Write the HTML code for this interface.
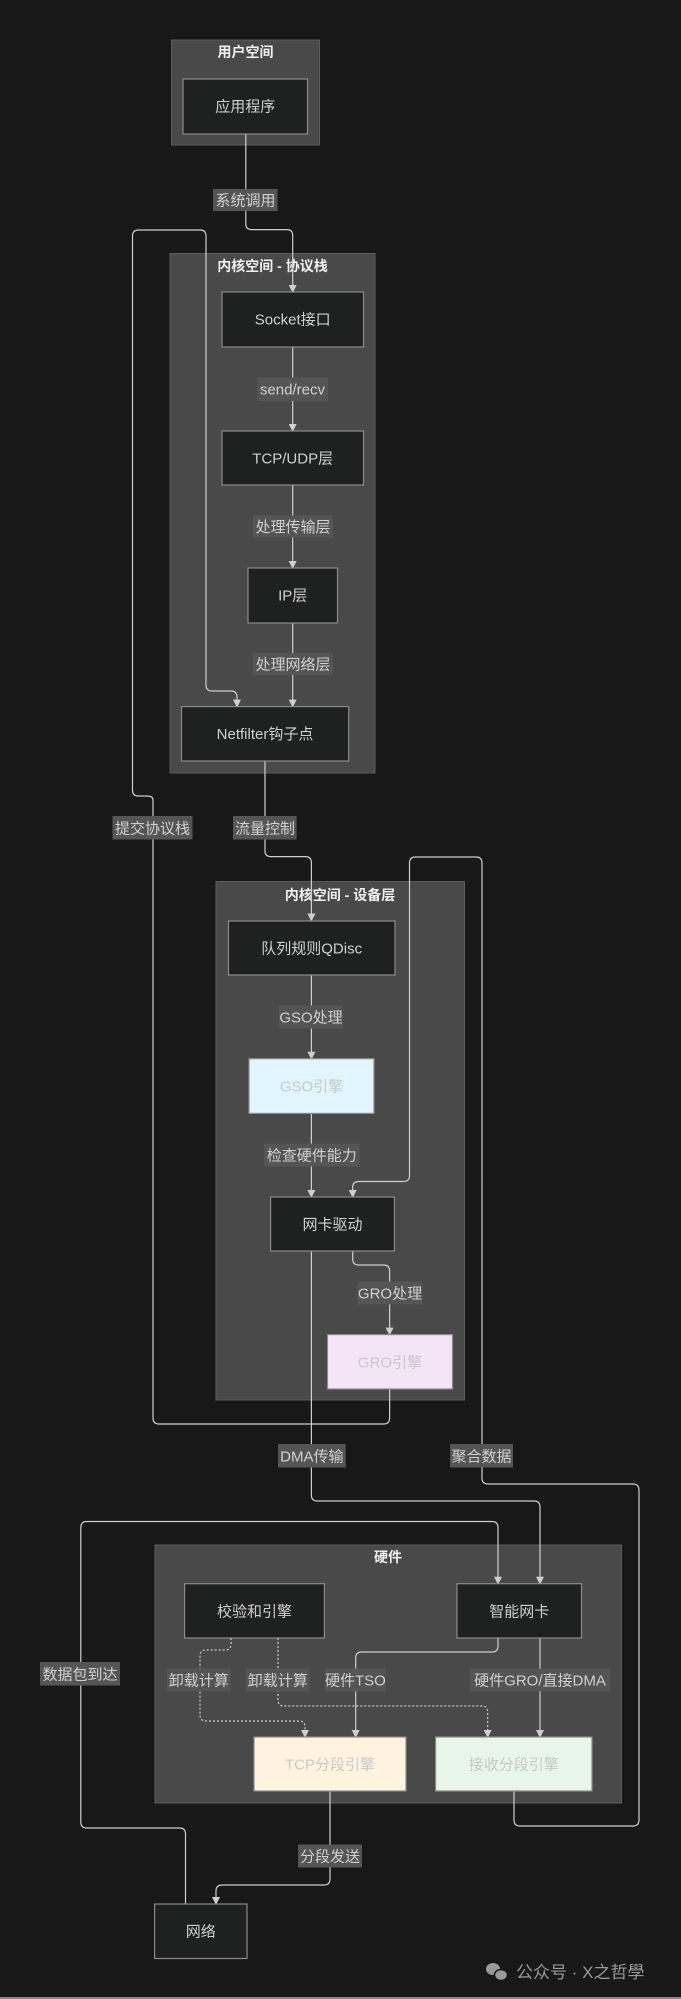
<!DOCTYPE html>
<html><head><meta charset="utf-8"><style>
html,body{margin:0;padding:0;background:#181818;}
svg{display:block;}
text{font-family:"Liberation Sans","Noto Sans CJK SC",sans-serif;}
</style></head><body>
<svg width="681" height="1999" viewBox="0 0 681 1999" xmlns="http://www.w3.org/2000/svg">
<defs>
<marker id="a" markerWidth="8" markerHeight="8" refX="7" refY="4" orient="auto" markerUnits="userSpaceOnUse">
<path d="M0,0 L8,4 L0,8 z" fill="#cfcfcf"/></marker>
</defs>
<rect width="681" height="1999" fill="#181818"/>
<rect x="0" y="1997" width="681" height="2" fill="#8a8a8a"/>

<g fill="#484948" stroke="#5c5c5c" stroke-width="1">
<rect x="171.5" y="40" width="148" height="105"/>
<rect x="170" y="253.5" width="205" height="519.5"/>
<rect x="216" y="881.5" width="248.5" height="518.5"/>
<rect x="155" y="1545" width="466.5" height="258"/>
</g>
<g fill="#f0f0f0" font-size="14" font-weight="bold" text-anchor="middle">
<text x="245.5" y="57">用户空间</text>
<text x="272.5" y="271">内核空间 - 协议栈</text>
<text x="340" y="900">内核空间 - 设备层</text>
<text x="388" y="1562">硬件</text>
</g>

<g fill="none" stroke="#cfcfcf" stroke-width="1.2">
<path d="M245.8,134 V224 q0,5.6 6,5.6 H287 q5.7,0 5.7,6 V292" marker-end="url(#a)"/>
<path d="M292.7,347 V431" marker-end="url(#a)"/>
<path d="M292.7,485 V568" marker-end="url(#a)"/>
<path d="M292.7,623 V706.6" marker-end="url(#a)"/>
<path d="M389.6,1389 V1418 q0,6 -6,6 H159 q-6,0 -6,-6 V800 q0,-4 -6,-4 H138 q-5.5,0 -5.5,-6 V236 q0,-6 6,-6 H200 q6,0 6,6 V685 q0,6 6,6 H231 q6,0 6,6 V706.6" marker-end="url(#a)"/>
<path d="M265,761 V851 q0,5.6 6,5.6 H305.4 q6,0 6,6 V920.5" marker-end="url(#a)"/>
<path d="M311.4,975 V1058.7" marker-end="url(#a)"/>
<path d="M311.4,1113.4 V1197" marker-end="url(#a)"/>
<path d="M514,1791 V1820 q0,6 6,6 H633 q6,0 6,-6 V1490 q0,-6 -6,-6 H488 q-6,0 -6,-6 V863 q0,-6 -6,-6 H415.5 q-6,0 -6,6 V1175.5 q0,6 -6,6 H358.7 q-6,0 -6,6 V1197" marker-end="url(#a)"/>
<path d="M352.7,1251 V1259 q0,6 6,6 H383.6 q6,0 6,6 V1334.6" marker-end="url(#a)"/>
<path d="M311.4,1251 V1495 q0,6 6,6 H534 q6,0 6,6 V1583.7" marker-end="url(#a)"/>
<path d="M185.5,1904 V1834 q0,-6 -6,-6 H86.8 q-6,0 -6,-6 V1527.5 q0,-6 6,-6 H492 q6,0 6,6 V1583.7" marker-end="url(#a)"/>
<path d="M498,1638 V1646 q0,6 -6,6 H361.7 q-6,0 -6,6 V1737" marker-end="url(#a)"/>
<path d="M540,1638 V1737" marker-end="url(#a)"/>
<path d="M330,1791 V1879 q0,6 -6,6 H222 q-6,0 -6,6 V1904" marker-end="url(#a)"/>
<g stroke-dasharray="2,2">
<path d="M231,1638 V1644 q0,6 -6,6 H206 q-6,0 -6,6 V1715 q0,6 6,6 H299 q6,0 6,6 V1737" marker-end="url(#a)"/>
<path d="M278,1638 V1700 q0,6 6,6 H481.7 q6,0 6,6 V1737" marker-end="url(#a)"/>
</g>
</g>

<g fill="#555555">
<rect x="213" y="189" width="64.5" height="22"/>
<rect x="257" y="377.5" width="71" height="23.5"/>
<rect x="253" y="515.5" width="80" height="22"/>
<rect x="253" y="653" width="80" height="22"/>
<rect x="112.5" y="816" width="80" height="23.5"/>
<rect x="233" y="816" width="63.6" height="23.5"/>
<rect x="279" y="1005.5" width="64" height="23"/>
<rect x="264" y="1143.5" width="95.6" height="23"/>
<rect x="357.5" y="1281.5" width="65" height="23"/>
<rect x="278" y="1444" width="67.7" height="23.5"/>
<rect x="450" y="1444" width="63" height="23.5"/>
<rect x="40" y="1662" width="80" height="23.5"/>
<rect x="167" y="1668.5" width="63.6" height="23"/>
<rect x="246" y="1668.5" width="63.7" height="23"/>
<rect x="325" y="1668.5" width="60.7" height="23"/>
<rect x="470" y="1668.5" width="140" height="23"/>
<rect x="298" y="1844.5" width="64" height="23"/>
</g>
<g fill="#d0d0d0" font-size="15" text-anchor="middle">
<text x="245.5" y="205.5">系统调用</text>
<text x="292.5" y="394.5">send/recv</text>
<text x="293" y="532">处理传输层</text>
<text x="293" y="669.5">处理网络层</text>
<text x="152.5" y="833.5">提交协议栈</text>
<text x="265" y="833.5">流量控制</text>
<text x="311" y="1022.5">GSO处理</text>
<text x="311.8" y="1160.5">检查硬件能力</text>
<text x="390" y="1298.5">GRO处理</text>
<text x="311.8" y="1461.5">DMA传输</text>
<text x="481.5" y="1461.5">聚合数据</text>
<text x="80" y="1679.5">数据包到达</text>
<text x="198.8" y="1685.5">卸载计算</text>
<text x="277.8" y="1685.5">卸载计算</text>
<text x="355.4" y="1685.5">硬件TSO</text>
<text x="540" y="1685.5">硬件GRO/直接DMA</text>
<text x="330" y="1861.5">分段发送</text>
</g>

<g stroke="#8a8a8a" stroke-width="1.2" fill="#1f2020">
<rect x="183" y="79" width="124.5" height="55"/>
<rect x="222" y="292" width="141.5" height="55"/>
<rect x="222" y="431" width="141.5" height="54"/>
<rect x="248" y="568" width="89.5" height="55"/>
<rect x="181.5" y="706.6" width="167.2" height="54.4"/>
<rect x="228.5" y="921" width="166.5" height="54"/>
<rect x="249" y="1058.7" width="125" height="54.7" fill="#e1f5fe"/>
<rect x="270.6" y="1197" width="123.8" height="54"/>
<rect x="327.5" y="1334.6" width="125" height="54.4" fill="#f3e5f5"/>
<rect x="184.6" y="1583.7" width="139.8" height="54.3"/>
<rect x="457" y="1583.7" width="124.5" height="54.3"/>
<rect x="254" y="1737" width="152" height="54" fill="#fff3e0"/>
<rect x="435.6" y="1737" width="156.4" height="54" fill="#e8f5e9"/>
<rect x="154.6" y="1904" width="92.4" height="54.5"/>
</g>
<g fill="#d0d0d0" font-size="15" text-anchor="middle">
<text x="245.3" y="111.5">应用程序</text>
<text x="292.7" y="324.5">Socket接口</text>
<text x="292.7" y="463.5">TCP/UDP层</text>
<text x="292.7" y="600.5">IP层</text>
<text x="265" y="739">Netfilter钩子点</text>
<text x="311.7" y="953.5">队列规则QDisc</text>
<text x="311.5" y="1091.5" fill="#c8c8c8">GSO引擎</text>
<text x="332.5" y="1229.5">网卡驱动</text>
<text x="390" y="1367.5" fill="#c8c8c8">GRO引擎</text>
<text x="254.5" y="1616.5">校验和引擎</text>
<text x="519.2" y="1616.5">智能网卡</text>
<text x="330" y="1769.5" fill="#c8c8c8">TCP分段引擎</text>
<text x="513.8" y="1769.5" fill="#c8c8c8">接收分段引擎</text>
<text x="200.8" y="1936.5">网络</text>
</g>

<g fill="#9a9a9a">
<ellipse cx="493" cy="1969" rx="7" ry="6"/>
<ellipse cx="501" cy="1975" rx="6.5" ry="5.5" stroke="#181818" stroke-width="1.5"/>
</g>
<text x="516" y="1978" fill="#9a9a9a" font-size="17">公众号 · X之哲學</text>
</svg>
</body></html>
